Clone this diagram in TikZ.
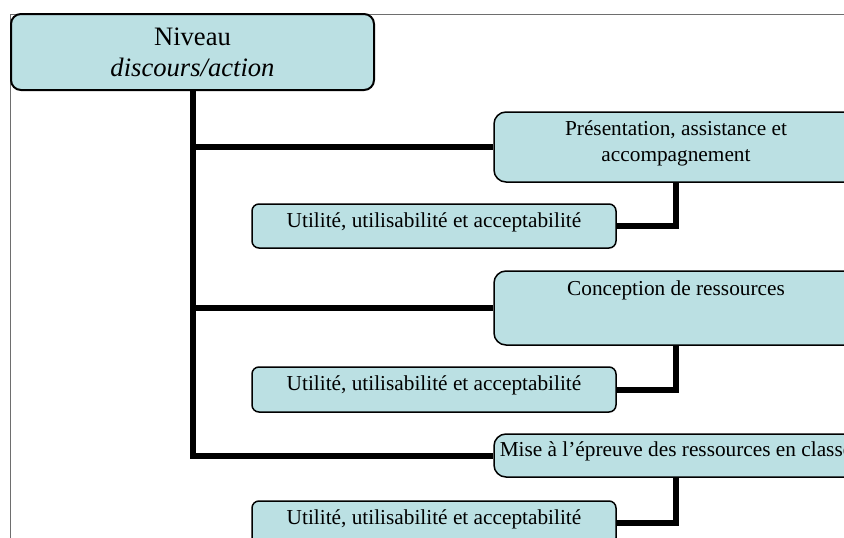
\documentclass[tikz,border=0pt]{standalone}
\usepackage{fontspec}
\setmainfont{Liberation Serif}
\definecolor{boxfill}{RGB}{187,224,227}
\definecolor{framegray}{RGB}{110,110,110}
\begin{document}
\begin{tikzpicture}[x=1pt,y=-1pt,
  box/.style={draw=black, line width=1.5pt, fill=boxfill, rounded corners=10pt, inner sep=0pt},
  subbox/.style={box, rounded corners=7pt, minimum width=364pt},
  bigbox/.style={box, rounded corners=12pt, minimum width=364pt},
  link/.style={line width=6pt, draw=black},
  txt/.style={anchor=base, inner sep=0pt, font=\fontsize{21.3}{25}\selectfont},
  bigtxt/.style={anchor=base, inner sep=0pt, font=\fontsize{26.6}{32}\selectfont}]
\useasboundingbox (0,0) rectangle (844,538);
\clip (0,0) rectangle (844,538);
% frame
\draw[framegray, line width=1pt] (10.5,538) -- (10.5,14) -- (844,14);
% boxes
\node[box, line width=2pt, minimum width=363pt, minimum height=76pt] (nv) at (192.5,52) {};
\node[bigbox, minimum height=70pt] (p1) at (676,147) {};
\node[subbox, minimum height=44pt] (s1) at (434,226) {};
\node[bigbox, minimum height=74pt] (c) at (676,308) {};
\node[subbox, minimum height=45pt] (s2) at (434,389.5) {};
\node[bigbox, minimum height=43pt] (m) at (676,455.5) {};
\node[subbox, minimum height=44pt] (s3) at (434,523) {};
% texts
\node[bigtxt] (nvt1) at (192.5,45.7) {Niveau};
\node[bigtxt] (nvt2) at (192.5,76.7) {\itshape discours/action};
\node[txt] (p1t1) at (676,135.7) {Présentation, assistance et};
\node[txt] (p1t2) at (676,161) {accompagnement};
\node[txt] (s1t) at (434,227.3) {Utilité, utilisabilité et acceptabilité};
\node[txt] (ct) at (676,295) {Conception de ressources};
\node[txt] (s2t) at (434,390) {Utilité, utilisabilité et acceptabilité};
\node[txt] (mt) at (676,456) {Mise à l’épreuve des ressources en classe};
\node[txt] (s3t) at (434,524) {Utilité, utilisabilité et acceptabilité};
% connectors
\draw[link] (nv.south) |- (m.west);
\draw[link] (nv.south |- p1.west) -- (p1.west);
\draw[link] (nv.south |- c.west) -- (c.west);
\draw[link] (p1.south) |- (s1.east);
\draw[link] (c.south) |- (s2.east);
\draw[link] (m.south) |- (s3.east);
\end{tikzpicture}
\end{document}
